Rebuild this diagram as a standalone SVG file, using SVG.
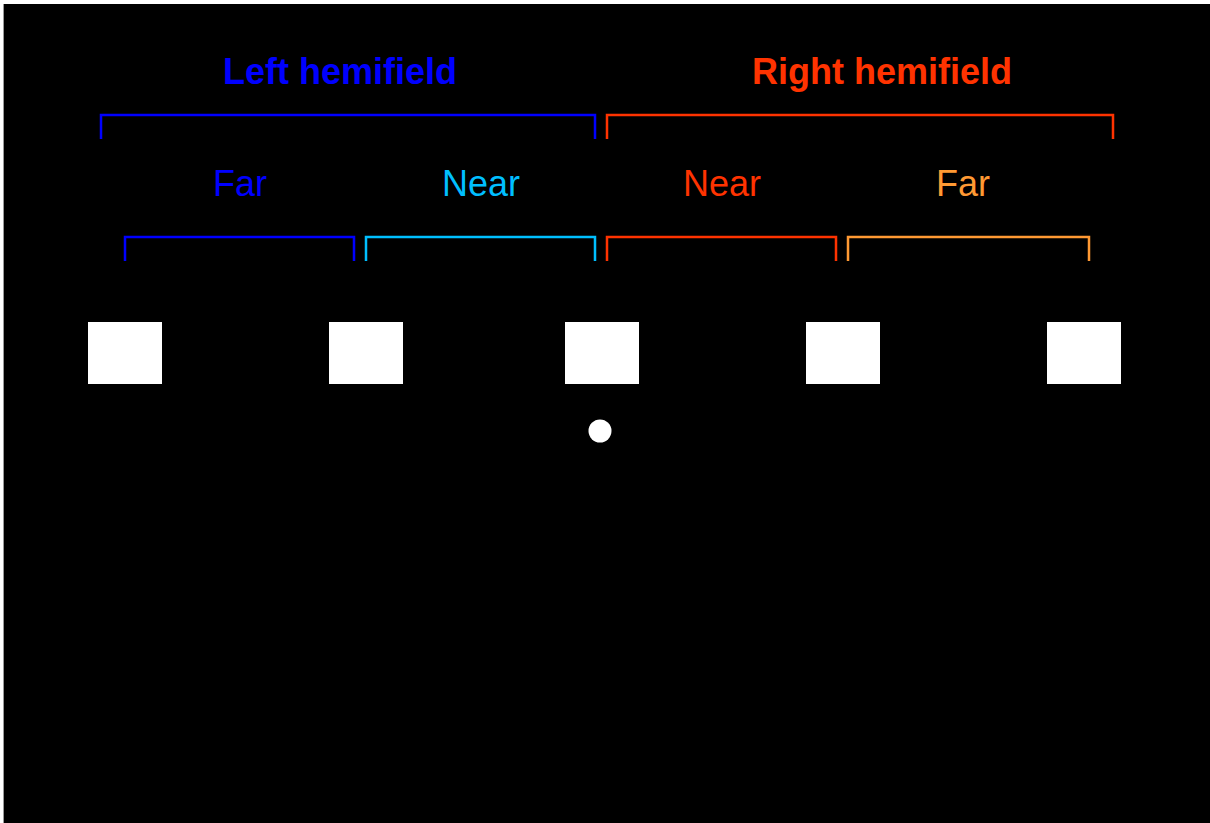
<svg xmlns="http://www.w3.org/2000/svg" width="1210" height="823" viewBox="0 0 1210 823">
  <style>
    .bracket { fill: none; stroke-width: 2.5; stroke-linejoin: miter; }
    .title { font-family: "Liberation Sans", Arial, sans-serif; font-size: 36px; font-weight: bold; text-anchor: middle; }
    .label { font-family: "Liberation Sans", Arial, sans-serif; font-size: 36px; text-anchor: middle; }
    .stim { fill: #ffffff; }
  </style>
  <rect x="0" y="0" width="1210" height="823" fill="#ffffff"/>
  <rect x="3" y="4" width="1207" height="819" fill="#000000"/>
  <line x1="3.5" y1="4" x2="3.5" y2="823" stroke="#9a9a9a" stroke-width="1"/>

  <!-- hemifield titles -->
  <g id="left-hemifield">
    <text class="title" x="340" y="84" fill="#0000ff">Left hemifield</text>
    <path class="bracket" stroke="#0000ff" d="M101,139 V115 H595 V139"/>
  </g>
  <g id="right-hemifield">
    <text class="title" x="882" y="84" fill="#ff3300">Right hemifield</text>
    <path class="bracket" stroke="#ff3300" d="M607,139 V115 H1113 V139"/>
  </g>

  <!-- eccentricity groups -->
  <g id="left-far">
    <text class="label" x="240" y="196" fill="#0000ff">Far</text>
    <path class="bracket" stroke="#0000ff" d="M125,261 V237 H354 V261"/>
  </g>
  <g id="left-near">
    <text class="label" x="481" y="196" fill="#00bfff">Near</text>
    <path class="bracket" stroke="#00bfff" d="M366,261 V237 H595 V261"/>
  </g>
  <g id="right-near">
    <text class="label" x="722" y="196" fill="#ff3300">Near</text>
    <path class="bracket" stroke="#ff3300" d="M607,261 V237 H836 V261"/>
  </g>
  <g id="right-far">
    <text class="label" x="963" y="196" fill="#ff9933">Far</text>
    <path class="bracket" stroke="#ff9933" d="M848,261 V237 H1089 V261"/>
  </g>

  <!-- stimulus placeholders -->
  <g id="stimuli">
    <rect class="stim" x="88" y="322" width="74" height="62"/>
    <rect class="stim" x="329" y="322" width="74" height="62"/>
    <rect class="stim" x="565" y="322" width="74" height="62"/>
    <rect class="stim" x="806" y="322" width="74" height="62"/>
    <rect class="stim" x="1047" y="322" width="74" height="62"/>
  </g>

  <!-- fixation point -->
  <g id="fixation">
    <circle cx="600" cy="431" r="11.5" fill="#ffffff"/>
  </g>
</svg>
